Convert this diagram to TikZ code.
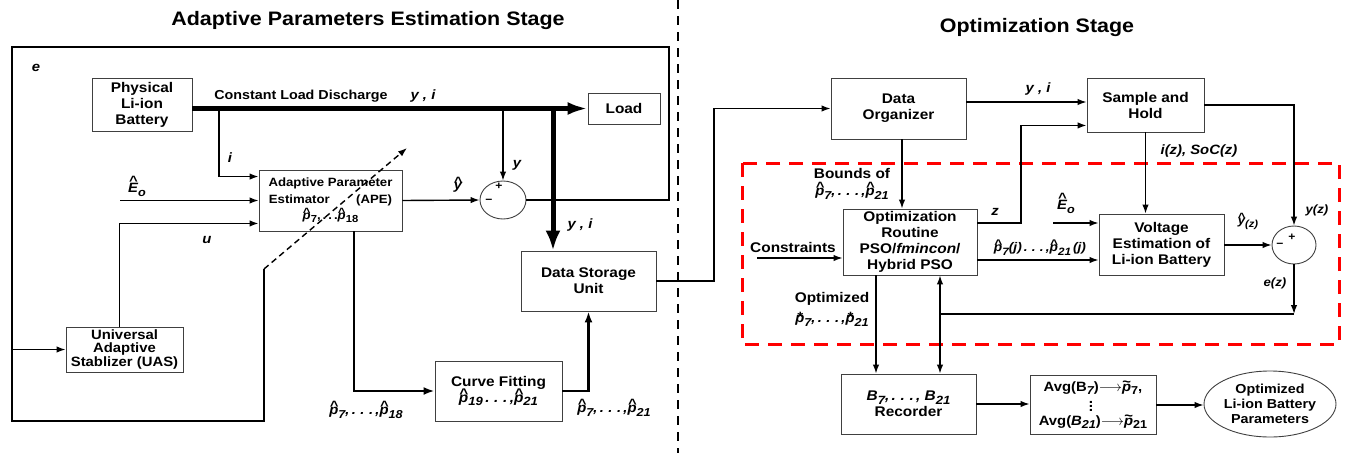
\documentclass[tikz,border=0pt]{standalone}
\usepackage{fontspec}
\setmainfont{Liberation Sans}[FakeStretch=1.1]
\usetikzlibrary{arrows.meta,calc,shapes.geometric}

\newcommand\ovr[3]{{\ooalign{#1\cr\hidewidth\raisebox{#3}{#2}\hidewidth\cr}}}
\newcommand\hp{\ovr{\textit{p}}{\textasciicircum}{0.28em}}
\newcommand\stp{\ovr{\textit{p}}{*}{0.12em}}
\newcommand\tlp{\ovr{\textit{p}}{\textasciitilde}{0.35em}}
\newcommand\hE{\ovr{\textit{E}}{\textasciicircum}{0.5em}}
\newcommand\hy{\ovr{\textit{y}}{\textasciicircum}{0.25em}}
\newcommand\sbs[1]{\raisebox{-0.28em}{\scalebox{0.85}{#1}}}
\newcommand\dd{\,.\,\,.\,\,.\,}

\begin{document}
\begin{tikzpicture}[x=1pt,y=-1pt,
  every node/.style={font=\bfseries\fontsize{14}{16}\selectfont},
  box/.style={draw=black!75, line width=0.9pt, inner sep=0pt, align=center, fill=white},
  junc/.style={draw=black!75, line width=0.9pt, ellipse, inner sep=0pt},
  lbl/.style={font=\bfseries\itshape\fontsize{13.5}{15}\selectfont, inner sep=0pt},
  txt/.style={font=\bfseries\fontsize{14}{16}\selectfont, inner sep=0pt},
  sgn/.style={font=\bfseries\fontsize{11}{11}\selectfont, inner sep=0pt},
  ttl/.style={font=\bfseries\fontsize{19.5}{21}\selectfont, inner sep=0pt},
  ln/.style={line width=1.4pt},
  arr/.style={line width=1.4pt, -{Latex[length=9pt,width=6.5pt]}},
  heavy/.style={line width=5pt},
  midw/.style={line width=2.8pt},
  bigtip/.style={-{Latex[length=20pt,width=15pt]}},
]
\useasboundingbox (0,0) rectangle (1347,453);

% titles and divider
\node[ttl] (t1) at (368,20) {Adaptive Parameters Estimation Stage};
\node[ttl] (t2) at (1037,27) {Optimization Stage};
\draw[line width=2.5pt, dash pattern=on 9pt off 7pt] (678,0) -- (678,453);

% red dashed region
\draw[red, line width=3pt, dash pattern=on 14pt off 9pt] (742,163) rectangle (1339,344);

% ---------- left stage nodes
\node[box, minimum width=100pt, minimum height=53pt] (bat) at (142,104.5) {Physical\\Li-ion\\Battery};
\node[box, minimum width=72pt, minimum height=31pt] (load) at (624,108.5) {Load};
\node[box, minimum width=143pt, minimum height=61pt, font=\bfseries\fontsize{12}{16.5}\selectfont] (ape) at (330.5,200.5)
  {Adaptive Parameter\\Estimator\hspace{2.2em}(APE)\\\hp\sbs{7},\,.\,.\,.\hp\sbs{18}};
\node[box, minimum width=117pt, minimum height=45pt, font=\bfseries\fontsize{13.5}{13.5}\selectfont] (uas) at (124.5,349.5) {Universal\\Adaptive\\Stablizer (UAS)};
\node[junc, minimum width=46pt, minimum height=38pt] (sum1) at (503,200) {};
\node[box, minimum width=135pt, minimum height=60pt] (dsu) at (588.5,281) {Data Storage\\Unit};
\node[box, minimum width=127pt, minimum height=60pt] (cf) at (498.5,391) {Curve Fitting\\{\itshape\hp\sbs{19}\dd,\hp\sbs{21}}};

% ---------- right stage nodes
\node[box, minimum width=135pt, minimum height=61pt] (do) at (898.5,108.5) {Data\\Organizer};
\node[box, minimum width=117pt, minimum height=54pt] (sh) at (1145.5,105) {Sample and\\Hold};
\node[box, minimum width=134pt, minimum height=66pt] (opt) at (910,242) {Optimization\\Routine\\PSO/\textit{fmincon}/\\Hybrid PSO};
\node[box, minimum width=125pt, minimum height=61pt] (ve) at (1161.5,244.5) {Voltage\\Estimation of\\Li-ion Battery};
\node[junc, minimum width=44pt, minimum height=38pt] (sum2) at (1294,245) {};
\node[box, minimum width=135pt, minimum height=60pt] (rec) at (908.5,404)
  {{\itshape B\sbs{7},\dd, B\sbs{21}}\\Recorder};
\node[box, minimum width=126pt, minimum height=59pt, font=\bfseries\fontsize{13.5}{15}\selectfont] (avg) at (1093,405)
  {Avg(B\sbs{\itshape 7})$\longrightarrow$\tlp\sbs{7},\\[19pt]Avg(\textit{B}\sbs{\itshape 21})$\longrightarrow$\tlp\sbs{21}};
\node[txt] (vd) at (1091,403) {\vdots};
\node[junc, minimum width=132pt, minimum height=66pt, align=center, font=\bfseries\fontsize{13}{15}\selectfont] (out) at (1270,404)
  {Optimized\\Li-ion Battery\\Parameters};

% ---------- labels
\node[lbl] (le) at (36,68) {e};
\node[txt, font=\bfseries\fontsize{13}{15}\selectfont] (lcld) at (301,96) {Constant Load Discharge};
\node[lbl] (lyi1) at (423,96) {y , i};
\node[lbl] (li) at (230,158) {i};
\node[lbl] (lE1) at (137,190) {\hE\sbs{o}};
\node[lbl] (lu) at (207,240) {u};
\node[lbl] (lyh) at (458,186) {\hy};
\node[lbl] (ly) at (517,165) {y};
\node[sgn] (pl1) at (499,186) {+};
\node[sgn] (mi1) at (489,201) {−};
\node[lbl] (lyi2) at (580,225) {y , i};
\node[lbl] (lp18) at (366,413) {\hp\sbs{7},\dd,\hp\sbs{18}};
\node[lbl] (lp21a) at (614,411) {\hp\sbs{7},\dd,\hp\sbs{21}};

\node[lbl] (lyi3) at (1038,89) {y , i};
\node[lbl] (lz) at (995,212) {z};
\node[lbl] (liz) at (1199,151) {i(z), SoC(z)};
\node[lbl, font=\bfseries\itshape\fontsize{12}{14}\selectfont] (lyz) at (1317,210) {y(z)};
\node[lbl, font=\bfseries\itshape\fontsize{12}{14}\selectfont] (lyhz) at (1248,224) {\hy\sbs{(z)}};
\node[lbl] (lE2) at (1066,207) {\hE\sbs{o}};
\node[lbl, font=\bfseries\itshape\fontsize{12.5}{14}\selectfont] (lpj) at (1040,249) {\hp\sbs{7}(j)\dd,\hp\sbs{21}\,(j)};
\node[lbl, font=\bfseries\itshape\fontsize{12}{14}\selectfont] (lez) at (1275,283) {e(z)};
\node[txt] (lb1) at (852,173) {Bounds of};
\node[lbl] (lb2) at (852,194) {\hp\sbs{7},\dd,\hp\sbs{21}};
\node[txt] (lcon) at (793,247) {Constraints};
\node[txt] (lopt1) at (832,299) {Optimized};
\node[lbl] (lopt2) at (832,321) {\stp\sbs{7},\dd,\stp\sbs{21}};
\node[sgn] (pl2) at (1292,237) {+};
\node[sgn] (mi2) at (1280,245) {−};

% ---------- coordinates
\coordinate (tI) at (219,108.5);
\coordinate (tY) at (503,108.5);
\coordinate (tD) at (553,106);
\coordinate (eoS) at (120,200.5);
\coordinate (fbTR) at (669,47);
\coordinate (fbBL) at (12,421);
\coordinate (fbE) at (264,269);
\coordinate (dashEnd) at (407,148);
\coordinate (bend1) at (714,200);
\coordinate (doOut) at (966,102);
\coordinate (zBend) at (1021,175);
\coordinate (eo2) at (1053,223);
\coordinate (pjOut) at ([yshift=-18pt]opt.east);
\coordinate (ezC) at (1294,314);
\coordinate (ezL) at (940,314);
\coordinate (cS) at (757,258);
\coordinate (doB) at ([xshift=3.5pt]do.south);
\coordinate (optB) at ([xshift=-34pt]opt.south);

% ---------- left connectors
\draw[heavy, -{Latex[length=20pt,width=13pt]}] (bat.east |- load.west) -- (load.west);
\draw[arr] (tI) |- ([yshift=-7pt]ape.north west);
\draw[arr] (eoS) -- (ape.west);
\draw[arr] ([xshift=-5pt]uas.north) |- ([yshift=8pt]ape.south west);
\draw[arr] (ape.east) -- (sum1.west);
\draw[arr] (tY) -- (sum1.north);
\draw[ln] (sum1.east) -| (fbTR) -| (fbBL) -| (fbE);
\draw[arr, dash pattern=on 6pt off 4pt] (fbE) -- (dashEnd);
\draw[arr] (fbBL |- uas.west) -- (uas.west);
\draw[heavy, bigtip] (tD) -- (tD |- dsu.north);
\draw[midw, -{Latex[length=11pt,width=8pt]}] ([xshift=23.5pt]ape.south) |- (cf.west);
\draw[midw, -{Latex[length=11pt,width=8pt]}] (cf.east) -| (dsu.south);
\draw[arr] (dsu.east) -| (bend1) |- (do.west);

% ---------- right connectors
\draw[arr] (doOut) -- (doOut -| sh.west);
\draw[arr] ([yshift=19pt]opt.east) -| (zBend) |- ([yshift=7pt]sh.south west);
\draw[arr] (sh.south) -- (sh.south |- ve.north);
\draw[arr] (sh.east) -| (sum2.north);
\draw[arr] (ve.east |- sum2.west) -- (sum2.west);
\draw[arr] (eo2) -- (eo2 -| ve.west);
\draw[arr] (pjOut) -- (pjOut -| ve.west);
\draw[arr] (sum2.south) -- (ezC);
\draw[ln] (ezC) -- (ezL);
\draw[arr] (ezL) -- (ezL |- opt.south);
\draw[arr] (ezL) -- (ezL |- rec.north);
\draw[arr] (cS) -- (cS -| opt.west);
\draw[arr] (doB) -- (doB |- opt.north);
\draw[arr] (optB) -- (optB |- rec.north);
\draw[arr] (rec.east) -- (rec.east -| avg.west);
\draw[arr] (avg.east) -- (avg.east -| out.west);
\end{tikzpicture}
\end{document}
